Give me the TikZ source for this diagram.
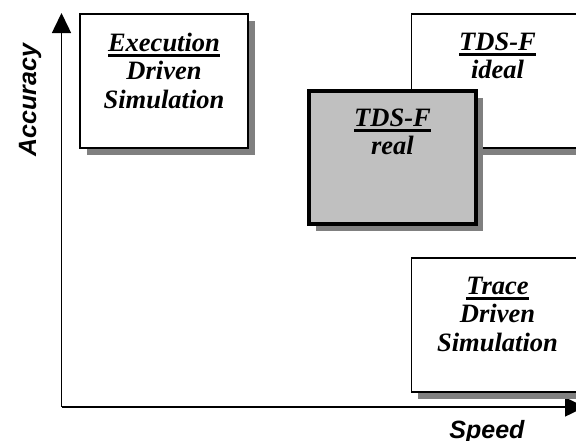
\documentclass[tikz,border=0pt]{standalone}
\usepackage{fontspec}
\setmainfont{Liberation Serif}
\setsansfont{Liberation Sans}
\usetikzlibrary{arrows.meta,shadows}
\definecolor{shadowgray}{HTML}{808080}
\definecolor{realfill}{HTML}{C0C0C0}
\newcommand\myul[1]{\setbox0=\hbox{#1}\rlap{\rule[-6pt]{\wd0}{3pt}}\box0}
\tikzset{
  box/.style={draw=black, line width=1.5pt, fill=white, inner sep=0pt, outer sep=0pt,
    drop shadow={shadow xshift=6.5pt, shadow yshift=-6.5pt, fill=shadowgray, opacity=1}},
  realbox/.style={box, line width=4pt, fill=realfill},
  boxtext/.style={anchor=north, inner sep=0pt, align=center,
    font=\bfseries\itshape\fontsize{26.5}{28.7}\selectfont},
  axis/.style={line width=1.5pt, -{Triangle[length=20pt,width=19pt]}},
  axislabel/.style={inner sep=0pt, anchor=base, font=\sffamily\bfseries\itshape\fontsize{25}{25}\selectfont}
}
\begin{document}
\begin{tikzpicture}[x=1pt,y=-1pt]
\useasboundingbox (0,0) rectangle (576,440);
% axes
\coordinate (origin) at (61.5,407);
\coordinate (ytip) at (61.5,13);
\coordinate (xtip) at (585,407);
\draw[axis] (origin) -- (ytip);
\draw[axis] (origin) -- (xtip);
\node[axislabel, rotate=90] (acc) at (36,100) {Accuracy};
\node[axislabel] (speed) at (487,438) {Speed};
% boxes
\node[box, minimum width=168pt, minimum height=134pt] (exec) at (164,81) {};
\node[boxtext] (exect) at ([yshift=-18.5pt]exec.north) {\myul{Execution}\\Driven\\Simulation};
\node[box, minimum width=172pt, minimum height=134pt] (ideal) at (497.5,81) {};
\node[boxtext] (idealt) at ([yshift=-18.5pt]ideal.north) {\myul{TDS-F}\\ideal};
\node[box, minimum width=172pt, minimum height=134pt] (trace) at (497.5,325) {};
\node[boxtext] (tracet) at ([yshift=-18.5pt]trace.north) {\myul{Trace}\\Driven\\Simulation};
\node[realbox, minimum width=167pt, minimum height=133pt] (real) at (392.5,157.5) {};
\node[boxtext] (realt) at ([yshift=-17.5pt]real.north) {\myul{TDS-F}\\real};
\end{tikzpicture}
\end{document}
